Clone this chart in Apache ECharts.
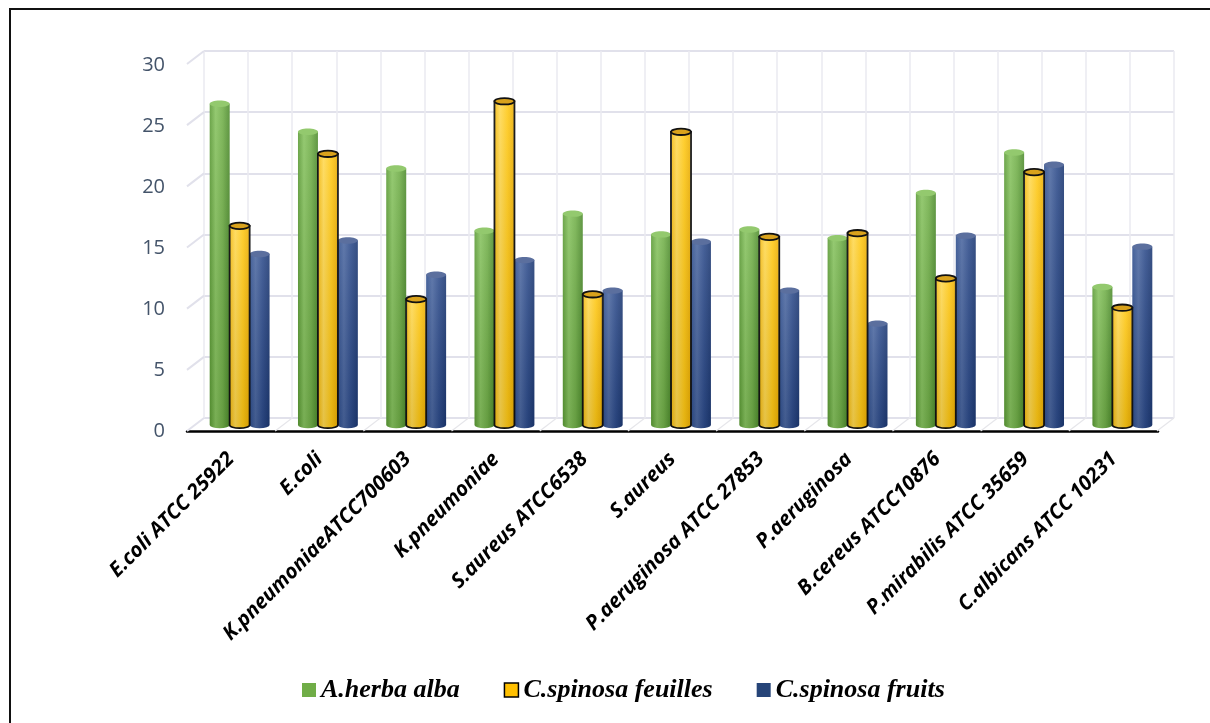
<!DOCTYPE html>
<html>
<head>
<meta charset="utf-8">
<script src="https://cdn.jsdelivr.net/npm/echarts@6/dist/echarts.min.js"></script>
<style>
  html, body { margin: 0; padding: 0; background: #fff; }
  #chart { width: 1210px; height: 723px; }
</style>
</head>
<body>
<div id="chart"></div>
<script>
// ---- data ----
var categories = ['E.coli ATCC 25922', 'E.coli', 'K.pneumoniaeATCC700603', 'K.pneumoniae',
  'S.aureus ATCC6538', 'S.aureus', 'P.aeruginosa ATCC 27853', 'P.aeruginosa',
  'B.cereus ATCC10876', 'P.mirabilis ATCC 35659', 'C.albicans ATCC 10231'];
var seriesNames = ['A.herba alba', 'C.spinosa feuilles', 'C.spinosa fruits'];
var herbaAlba = [26.3, 24.0, 21.0, 15.9, 17.3, 15.6, 16.0, 15.3, 19.0, 22.3, 11.3];
var spinosaFeuilles = [16.3, 22.2, 10.3, 26.5, 10.7, 24.0, 15.4, 15.7, 12.0, 20.7, 9.6];
var spinosaFruits = [14.0, 15.1, 12.3, 13.5, 11.0, 15.0, 11.0, 8.3, 15.5, 21.3, 14.6];
var yTicks = [0, 5, 10, 15, 20, 25, 30];

// ---- styling ----
var LG = echarts.graphic.LinearGradient;
var styles = [
  { body: [[0, '#5a9a34'], [0.3, '#86c25e'], [0.65, '#70ae48'], [1, '#4c8a2c']], top: '#93c96e', stroke: null },
  { body: [[0, '#f2b300'], [0.3, '#ffd84f'], [0.65, '#ffc814'], [1, '#e8a900']], top: '#d9a21c', stroke: '#111' },
  { body: [[0, '#2c4c8c'], [0.3, '#4a669f'], [0.65, '#2d4b8a'], [1, '#1c3872']], top: '#5b6f9e', stroke: null }
];

function makeCylinder(idx) {
  var st = styles[idx];
  return function (params, api) {
    var cat = api.value(0), v = api.value(1);
    var t = api.coord([cat, v]);
    var b = api.coord([cat, 0]);
    var band = api.size([1, 0])[0];
    var w = band * 0.226;
    var cx = t[0] + (idx - 1) * w;
    var x0 = cx - w / 2, x1 = cx + w / 2;
    var rx = w / 2, ry = 3.2;
    var by = b[1];
    var path = 'M' + x0 + ' ' + t[1] + ' L' + x0 + ' ' + by +
      ' A' + rx + ' ' + ry + ' 0 0 0 ' + x1 + ' ' + by +
      ' L' + x1 + ' ' + t[1] + ' Z';
    var children = [
      { type: 'path', shape: { pathData: path },
        style: { fill: new LG(0, 0, 1, 0, st.body.map(function (s) { return { offset: s[0], color: s[1] }; })),
                 stroke: st.stroke, lineWidth: st.stroke ? 1.8 : 0 } },
      { type: 'path', shape: { pathData: path }, silent: true,
        style: { fill: new LG(0, 0, 0, 1, [{ offset: 0, color: 'rgba(255,255,255,0.12)' }, { offset: 1, color: 'rgba(0,0,0,0.10)' }]) } },
      { type: 'ellipse', shape: { cx: cx, cy: t[1], rx: rx, ry: ry },
        style: { fill: st.top, stroke: st.stroke, lineWidth: st.stroke ? 1.8 : 0 } }
    ];
    return { type: 'group', children: children };
  };
}

function toData(arr) { return arr.map(function (v, i) { return [i, v]; }); }
var seriesData = [herbaAlba, spinosaFeuilles, spinosaFruits];

var gridColor = '#e1e1eb';
var option = {
  backgroundColor: '#fff',
  animation: false,
  graphic: [
    { type: 'rect', shape: { x: 10, y: 9, width: 1400, height: 900 }, style: { fill: 'none', stroke: '#111', lineWidth: 2 }, z: 100 }
  ],
  grid: [
    { left: 204, right: 36, top: 51, bottom: 305 },      // back wall
    { left: 187, right: 52, top: 65, bottom: 292 },      // front plane (axes)
    { left: 195.5, right: 43.5, top: 58.5, bottom: 298 } // bar plane (middle depth)
  ],
  xAxis: [
    { gridIndex: 0, type: 'value', min: 0, max: 22, interval: 1, axisLabel: { show: false }, axisTick: { show: false },
      axisLine: { show: false }, splitLine: { show: true, lineStyle: { color: '#eaeaf1', width: 1.5 } } },
    { gridIndex: 1, type: 'category', data: categories, axisTick: { show: false },
      axisLine: { show: true, lineStyle: { color: '#000', width: 2.5 } },
      axisLabel: { interval: 0, rotate: 45, margin: 25, color: '#000', fontFamily: 'Open Sans', fontWeight: 'bold', fontStyle: 'italic', fontSize: 20.5 } },
    { gridIndex: 2, type: 'category', data: categories, show: false }
  ],
  yAxis: [
    { gridIndex: 0, type: 'value', min: 0, max: 30, interval: 5, axisLabel: { show: false }, axisTick: { show: false },
      axisLine: { show: false }, splitLine: { show: true, lineStyle: { color: gridColor, width: 2 } } },
    { gridIndex: 1, type: 'value', min: 0, max: 30, interval: 5, axisTick: { show: false }, axisLine: { show: false },
      splitLine: { show: false },
      axisLabel: { margin: 22, color: '#44546a', fontFamily: 'Open Sans', fontSize: 20 } },
    { gridIndex: 2, type: 'value', min: 0, max: 30, interval: 5, show: false, splitLine: { show: false } }
  ],
  legend: {
    left: 297, top: 672, itemWidth: 14, itemHeight: 14, itemGap: 44,
    textStyle: { fontFamily: 'Liberation Serif', fontWeight: 'bold', fontStyle: 'italic', fontSize: 26, color: '#000' },
    data: [
      { name: seriesNames[0], icon: 'rect', itemStyle: { color: '#70ad47' } },
      { name: seriesNames[1], icon: 'rect', itemStyle: { color: '#ffc000', borderColor: '#000', borderWidth: 1.5 } },
      { name: seriesNames[2], icon: 'rect', itemStyle: { color: '#264478' } }
    ]
  },
  series: [
    // left side wall diagonals
    { type: 'custom', xAxisIndex: 0, yAxisIndex: 0, silent: true, z: 1,
      data: yTicks.map(function (v) { return [0, v]; }),
      renderItem: function (params, api) {
        var p = api.coord([0, api.value(1)]);
        return { type: 'line', shape: { x1: p[0], y1: p[1], x2: p[0] - 17, y2: p[1] + 13 },
          style: { stroke: gridColor, lineWidth: 2 } };
      } },
    // floor diagonals
    { type: 'custom', xAxisIndex: 0, yAxisIndex: 0, silent: true, z: 1,
      data: categories.map(function (c, i) { return [2 * (i + 1), 0]; }),
      renderItem: function (params, api) {
        var p = api.coord([api.value(0), 0]);
        return { type: 'line', shape: { x1: p[0], y1: p[1], x2: p[0] - 17, y2: p[1] + 13 },
          style: { stroke: '#e6e6ea', lineWidth: 1.2 } };
      } }
  ].concat(seriesData.map(function (arr, i) {
    return {
      name: seriesNames[i], type: 'custom', xAxisIndex: 2, yAxisIndex: 2,
      z: i === 1 ? 5 : 3,
      itemStyle: { color: ['#70ad47', '#ffc000', '#264478'][i] },
      encode: { x: 0, y: 1 },
      data: toData(arr),
      renderItem: makeCylinder(i)
    };
  }))
};

var chart = echarts.init(document.getElementById('chart'), null, { renderer: 'canvas' });
chart.setOption(option);
</script>
</body>
</html>
